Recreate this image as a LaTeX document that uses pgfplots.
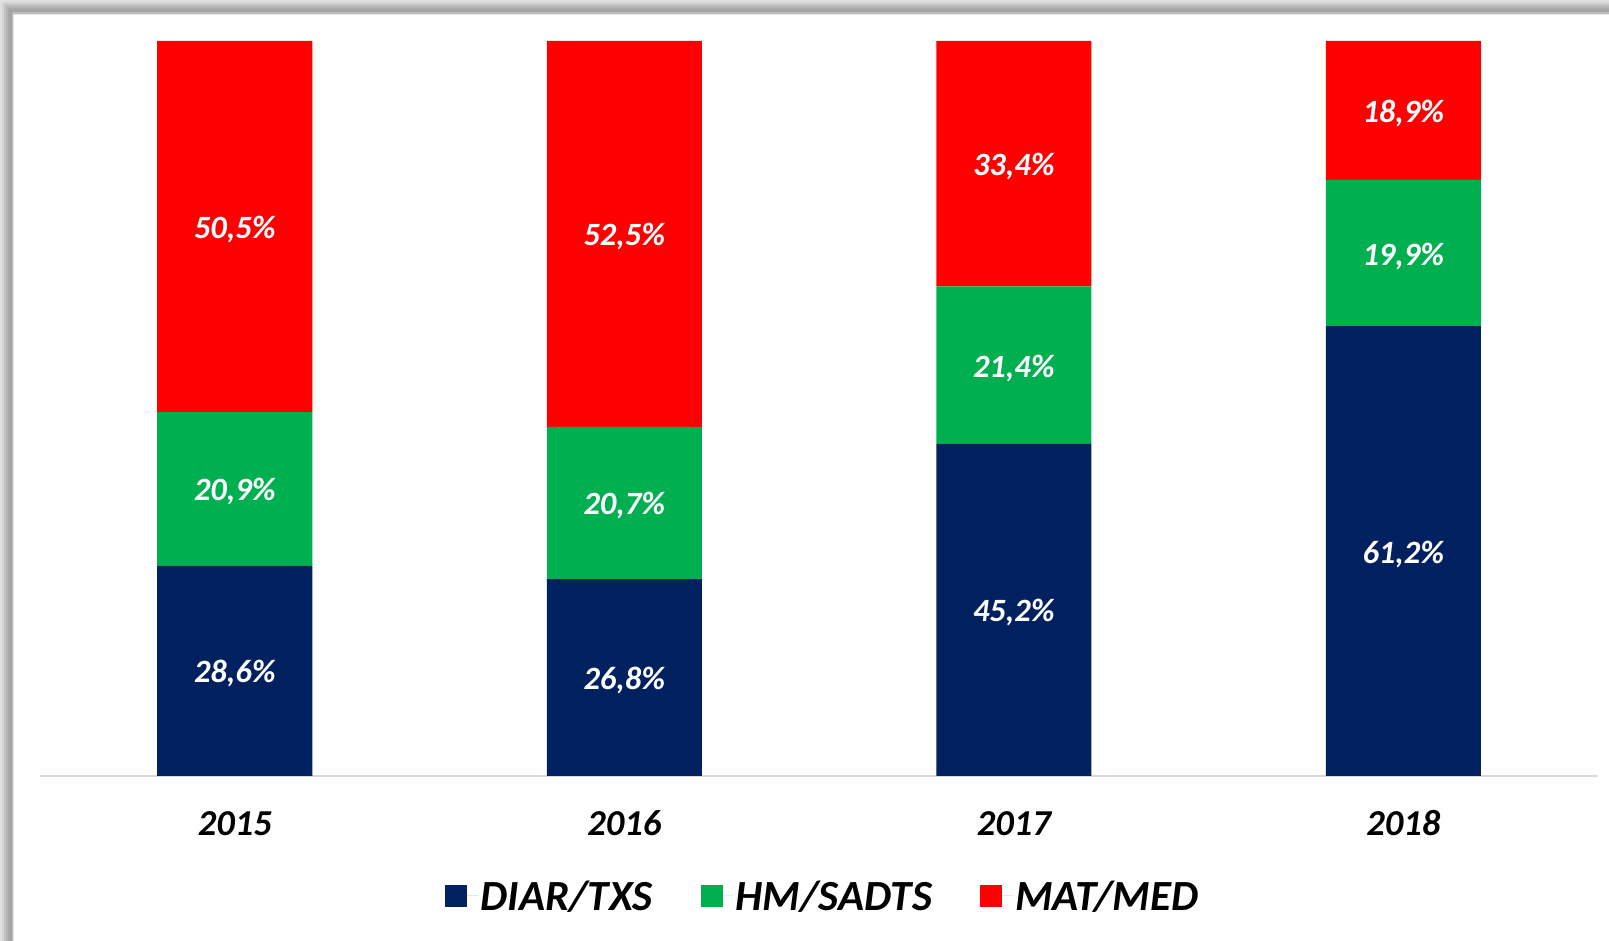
\documentclass[border=0pt]{standalone}
\usepackage{fontspec}
\setmainfont{Carlito}
\usepackage{pgfplots}
\pgfplotsset{compat=1.18}
\definecolor{cnavy}{HTML}{002060}
\definecolor{cgreen}{HTML}{00B050}
\definecolor{cred}{HTML}{FF0000}
\definecolor{axgray}{HTML}{D9D9D9}
\begin{document}
\begin{tikzpicture}
\path[use as bounding box] (0pt,0pt) rectangle (1609pt,941pt);
\fill[black!12] (0pt,0pt) rectangle (1609pt,941pt);
\foreach \k/\c in {2/17,4/23,6/29,8/34,10/36,12/26} {
  \fill[black!\c] ({\k pt},0pt) rectangle (1609pt,{941pt-\k pt});
}
\fill[white] (13pt,0pt) rectangle (1609pt,927pt);
\draw[black!10, line width=1pt] (13.5pt,0pt) -- (13.5pt,926.5pt) -- (1609pt,926.5pt);
\begin{axis}[
  at={(40pt,165pt)}, anchor=south west,
  scale only axis, width=1558pt, height=735pt,
  ybar stacked, bar width=155pt,
  ymin=0, ymax=100, xmin=-0.5, xmax=3.5,
  axis x line*=bottom, axis y line=none,
  x axis line style={axgray, line width=2pt},
  xtick={0,1,2,3}, xticklabels={2015,2016,2017,2018},
  major tick length=0pt, ytick=\empty,
  xticklabel style={font=\fontsize{36.5pt}{38pt}\selectfont\bfseries\itshape, anchor=base, yshift=-60pt},
  clip=false,
  /pgf/number format/assume math mode=true,
  nodes near coords={\pgfmathprintnumber[fixed,fixed zerofill,precision=1,use comma,assume math mode=true]{\pgfplotspointmeta}\%},
  nodes near coords style={white, font=\fontsize{32.5pt}{34pt}\selectfont\bfseries\itshape, anchor=center, yshift=-3pt},
  legend style={at={(0.5,0)}, anchor=center, yshift=-120pt, xshift=4pt, draw=none, fill=none,
    legend columns=-1, font=\fontsize{43pt}{45pt}\selectfont\bfseries\itshape,
    /tikz/every even column/.append style={column sep=46pt}},
  legend image code/.code={\fill[#1] (0pt,-11pt) rectangle (22pt,11pt); \path (0pt,0pt) -- (33pt,0pt);},
]
\addplot[fill=cnavy, draw=none] coordinates {(0,28.6) (1,26.8) (2,45.2) (3,61.2)};
\addplot[fill=cgreen, draw=none] coordinates {(0,20.9) (1,20.7) (2,21.4) (3,19.9)};
\addplot[fill=cred, draw=none] coordinates {(0,50.5) (1,52.5) (2,33.4) (3,18.9)};
\legend{DIAR/TXS, HM/SADTS, MAT/MED}
\end{axis}
\end{tikzpicture}
\end{document}
